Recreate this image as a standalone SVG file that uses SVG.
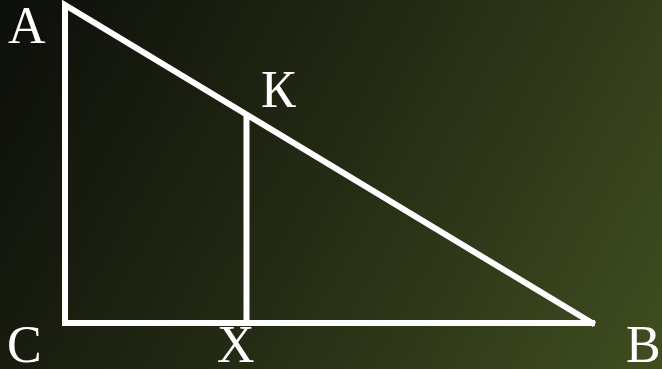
<svg xmlns="http://www.w3.org/2000/svg" width="662" height="369" viewBox="0 0 662 369">
<defs>
<linearGradient id="bg" x1="0" y1="0" x2="662" y2="369" gradientUnits="userSpaceOnUse">
<stop offset="0" stop-color="#0c0e0a"/>
<stop offset="0.5" stop-color="#242b14"/>
<stop offset="1" stop-color="#404e20"/>
</linearGradient>
<style>
.ln{stroke:#ffffff;stroke-width:6;fill:none;stroke-linecap:square;stroke-linejoin:miter}
.lb{font-family:"Liberation Serif","Times New Roman",Times,serif;font-size:52px;fill:#ffffff}
</style>
</defs>
<rect x="0" y="0" width="662" height="369" fill="url(#bg)"/>
<g id="connectors">
<polyline class="ln" points="592,323 65,323 65,5 592,323"/>
<line class="ln" x1="246.5" y1="114" x2="246.5" y2="323" style="stroke-linecap:butt"/>
</g>
<g id="node-A"><text class="lb" x="8" y="43">A</text></g>
<g id="node-K"><text class="lb" x="261" y="107">К</text></g>
<g id="node-C"><text class="lb" x="7" y="362">C</text></g>
<g id="node-X"><text class="lb" x="217" y="362">X</text></g>
<g id="node-B"><text class="lb" x="626" y="362">B</text></g>
</svg>
